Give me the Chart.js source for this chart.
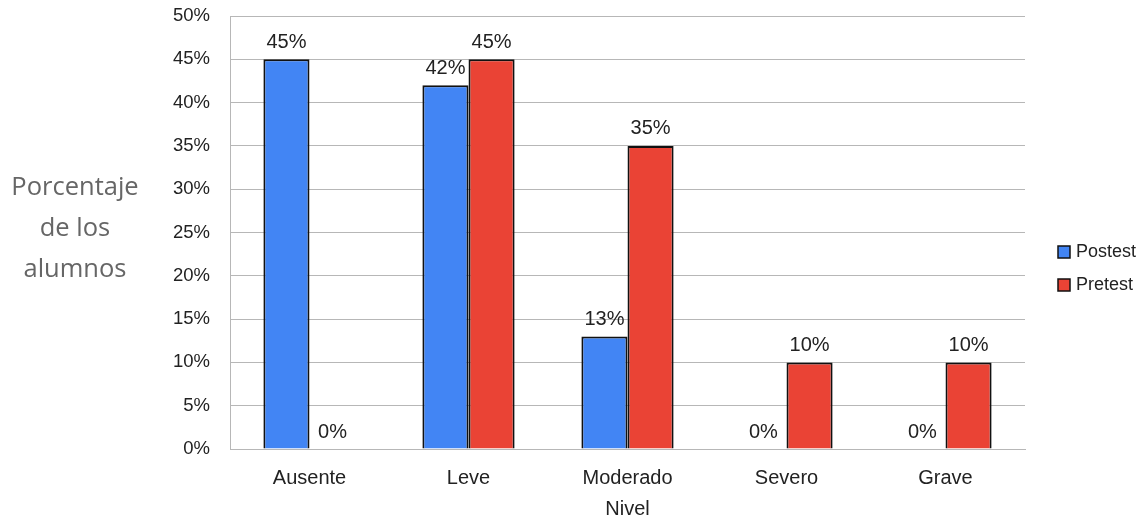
<!DOCTYPE html>
<html>
<head>
<meta charset="utf-8">
<script src="https://cdn.jsdelivr.net/npm/chart.js@4"></script>
<style>
  html, body { margin: 0; padding: 0; background: #fff; }
  #wrap { width: 1147px; height: 519px; }
</style>
</head>
<body>
<div id="wrap"><canvas id="nivelChart" width="1147" height="519"></canvas></div>
<script>
const niveles = ["Ausente", "Leve", "Moderado", "Severo", "Grave"];
const postest = [45, 42, 13, 0, 0];
const pretest = [0, 45, 35, 10, 10];
const yTicks = [0, 5, 10, 15, 20, 25, 30, 35, 40, 45, 50];
const yTitle = ["Porcentaje", "de los", "alumnos"];

const FONT = '"Liberation Sans", Arial, sans-serif';

// etiquetas de valor encima de cada barra
const valueLabels = {
  id: 'valueLabels',
  afterDatasetsDraw(chart) {
    const ctx = chart.ctx;
    ctx.save();
    ctx.font = '20px ' + FONT;
    ctx.fillStyle = '#222';
    ctx.textAlign = 'center';
    ctx.textBaseline = 'bottom';
    chart.data.datasets.forEach((ds, i) => {
      chart.getDatasetMeta(i).data.forEach((bar, j) => {
        ctx.fillText(ds.data[j] + '%', bar.x, bar.y - 7);
      });
    });
    ctx.restore();
  }
};

// título del eje Y en tres líneas, horizontal
const yTitlePlugin = {
  id: 'yTitlePlugin',
  afterDraw(chart) {
    const ctx = chart.ctx;
    ctx.save();
    ctx.font = '25.5px "Open Sans", sans-serif';
    ctx.fillStyle = '#666';
    ctx.textAlign = 'center';
    ctx.textBaseline = 'middle';
    yTitle.forEach((t, i) => ctx.fillText(t, 75, 188 + i * 41));
    ctx.restore();
  }
};

// leyenda a la derecha con cuadros pequeños
const sideLegend = {
  id: 'sideLegend',
  afterDraw(chart) {
    const ctx = chart.ctx;
    const x = chart.chartArea.right + 33;
    ctx.save();
    ctx.font = '18px ' + FONT;
    ctx.textBaseline = 'middle';
    chart.data.datasets.forEach((ds, i) => {
      const y = 252 + i * 33;
      ctx.fillStyle = ds.backgroundColor;
      ctx.fillRect(x, y - 6, 12, 12);
      ctx.strokeStyle = '#111';
      ctx.lineWidth = 1.5;
      ctx.strokeRect(x, y - 6, 12, 12);
      ctx.fillStyle = '#222';
      ctx.fillText(ds.label, x + 18, y);
    });
    ctx.restore();
  }
};

const ctx = document.getElementById('nivelChart').getContext('2d');

new Chart(ctx, {
  type: 'bar',
  data: {
    labels: niveles,
    datasets: [
      {
        label: 'Postest',
        data: postest,
        backgroundColor: '#4285f4',
        borderColor: '#111',
        borderWidth: 2
      },
      {
        label: 'Pretest',
        data: pretest,
        backgroundColor: '#ea4335',
        borderColor: '#111',
        borderWidth: 2
      }
    ]
  },
  options: {
    responsive: false,
    animation: false,
    layout: { padding: { top: 16, right: 122, bottom: 0, left: 0 } },
    datasets: {
      bar: { categoryPercentage: 0.58, barPercentage: 1 }
    },
    scales: {
      x: {
        grid: { display: false, drawTicks: false },
        border: { color: '#b7b7b7' },
        ticks: {
          color: '#222',
          padding: 17,
          font: { family: FONT, size: 20 }
        },
        title: {
          display: true,
          text: 'Nivel',
          color: '#222',
          padding: { top: -10, bottom: -2 },
          font: { family: FONT, size: 20 }
        }
      },
      y: {
        min: 0,
        max: 50,
        afterFit(scale) {
          scale.width = 230;
          scale.paddingTop = 0;
          scale.paddingBottom = 0;
        },
        afterBuildTicks(scale) { scale.ticks = yTicks.map(v => ({ value: v })); },
        grid: { color: '#b7b7b7', drawTicks: false },
        border: { color: '#b7b7b7' },
        ticks: {
          color: '#222',
          padding: 20,
          font: { family: FONT, size: 18.5 },
          callback: v => v + '%'
        }
      }
    },
    plugins: {
      tooltip: { enabled: false },
      legend: { display: false }
    }
  },
  plugins: [valueLabels, yTitlePlugin, sideLegend]
});
</script>
</body>
</html>
